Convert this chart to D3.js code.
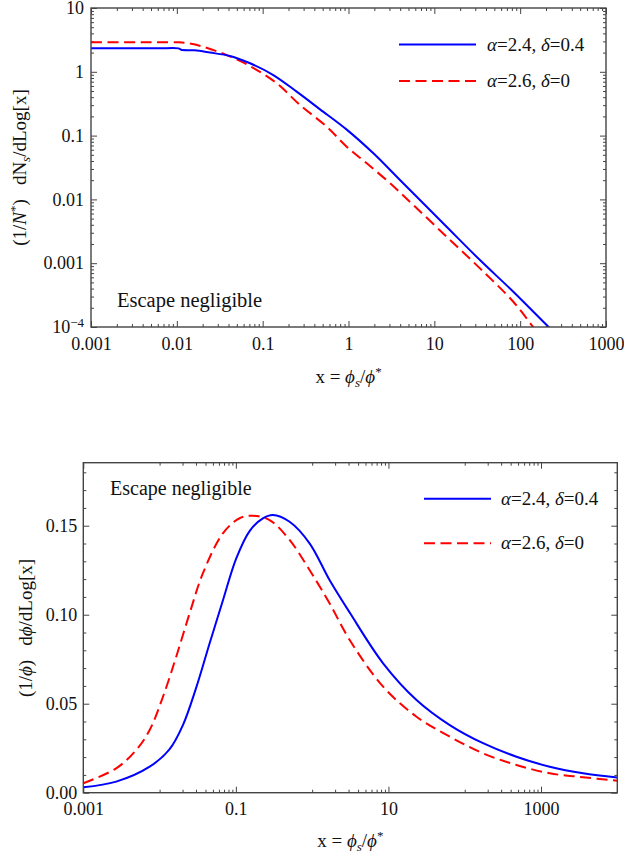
<!DOCTYPE html>
<html>
<head>
<meta charset="utf-8">
<script src="https://cdn.jsdelivr.net/npm/d3@7"></script>
<style>
  html, body { margin: 0; padding: 0; background: #fff; }
  svg { display: block; }
  text { font-family: "Liberation Serif", "Times New Roman", serif; fill: #111; }
</style>
</head>
<body>
<svg id="chart" width="624" height="856"></svg>
<script>
// ---------------- DATA ----------------
// Top panel: (1/N*) dNs/dLog[x] vs x (log-log)
const topBlueX = [0.001, 0.003, 0.006, 0.0105, 0.0112, 0.016, 0.0243, 0.0416, 0.0713, 0.133, 0.249, 0.466, 0.953, 1.95, 3.98, 6.8, 13.9, 34, 83.2, 213, 240];
const topBlueY = [2.33, 2.33, 2.33, 2.33, 2.22, 2.17, 2.0, 1.77, 1.36, 0.89, 0.488, 0.258, 0.124, 0.0527, 0.0201, 0.0098, 0.00373, 0.00112, 0.000357, 0.000101, 0.000087];
const topRedX = [0.001, 0.003, 0.006, 0.0105, 0.014, 0.0203, 0.0381, 0.0711, 0.146, 0.272, 0.557, 0.953, 1.63, 3.05, 5.69, 13.9, 34, 83.2, 136, 155];
const topRedY = [2.9, 2.9, 2.9, 2.9, 2.78, 2.47, 1.83, 1.23, 0.66, 0.302, 0.138, 0.067, 0.0368, 0.0179, 0.00817, 0.0026, 0.00083, 0.000249, 0.000107, 0.000085];

// Bottom panel: (1/phi) dphi/dLog[x] vs x (log-linear)
const botBlueX = [0.001, 0.0027, 0.00741, 0.01355, 0.02023, 0.0302, 0.0453, 0.0676, 0.1009, 0.1514, 0.2259, 0.3055, 0.5058, 0.9247, 1.69, 3.105, 8.511, 23.33, 63.68, 173.8, 476.4, 1300, 3556, 10000];
const botBlueY = [0.0030, 0.0062, 0.0146, 0.0245, 0.0380, 0.0590, 0.0840, 0.1080, 0.1315, 0.1470, 0.1541, 0.1560, 0.1522, 0.1401, 0.1195, 0.1012, 0.0727, 0.0521, 0.0380, 0.0278, 0.0202, 0.0146, 0.0109, 0.0086];
const botRedX = [0.001, 0.0027, 0.00494, 0.00741, 0.01107, 0.01652, 0.02477, 0.0370, 0.0676, 0.1119, 0.1671, 0.2767, 0.5058, 0.9247, 1.69, 3.105, 8.511, 23.33, 63.68, 173.8, 476.4, 1300, 3556, 10000];
const botRedY = [0.0053, 0.0137, 0.0240, 0.0352, 0.0539, 0.0764, 0.1008, 0.1233, 0.1457, 0.1542, 0.1556, 0.1532, 0.1420, 0.1251, 0.1064, 0.0858, 0.0596, 0.0427, 0.0315, 0.0221, 0.0156, 0.0109, 0.0087, 0.0067];

// Tick labels
const topXTicks = [0.001, 0.01, 0.1, 1, 10, 100, 1000];
const topXLabels = ["0.001", "0.01", "0.1", "1", "10", "100", "1000"];
const topYTicks = [0.0001, 0.001, 0.01, 0.1, 1, 10];
const topYLabels = ["10^-4", "0.001", "0.01", "0.1", "1", "10"];
const botXTicks = [0.001, 0.1, 10, 1000];
const botXLabels = ["0.001", "0.1", "10", "1000"];
const botYTicks = [0, 0.05, 0.10, 0.15];
const botYLabels = ["0.00", "0.05", "0.10", "0.15"];

const seriesNames = ["α=2.4, δ=0.4", "α=2.6, δ=0"];
const panelNote = "Escape negligible";

// ---------------- DRAW ----------------
const svg = d3.select("#chart");
const BLUE = "#0000ff", RED = "#ff0000", AX = "#444";

function zip(xs, ys) { return xs.map((x, i) => ({x, y: ys[i]})); }

function frame(g, x0, x1, y0, y1) {
  g.append("rect").attr("x", x0).attr("y", y0).attr("width", x1 - x0).attr("height", y1 - y0)
    .attr("fill", "none").attr("stroke", AX).attr("stroke-width", 1.4);
}

function styleAxis(sel) {
  sel.select(".domain").remove();
  sel.selectAll(".tick line").attr("stroke", AX).attr("stroke-width", 1);
  sel.selectAll(".tick text").style("font-size", "18px").style("font-family", "Liberation Serif, serif").attr("fill", "#111");
}

function drawAxisSet(g, axisFn, scale, pos, major, minor, labels, majLen, minLen, pad, showLabels) {
  const aMin = axisFn(scale).tickValues(minor).tickSizeInner(-minLen).tickSizeOuter(0).tickFormat("");
  g.append("g").attr("transform", pos).call(aMin).call(styleAxis);
  const aMaj = axisFn(scale).tickValues(major).tickSizeInner(-majLen).tickSizeOuter(0).tickPadding(pad)
    .tickFormat((d, i) => showLabels ? labels[i] : "");
  const ga = g.append("g").attr("transform", pos).call(aMaj).call(styleAxis);
  return ga;
}

function logMinors(lo, hi) {
  const out = [];
  for (let e = lo; e < hi; e++) for (let k = 2; k <= 9; k++) out.push(k * Math.pow(10, e));
  return out;
}

// ===== TOP PANEL =====
const T = {x0: 91, x1: 606, y0: 8, y1: 327};
const xT = d3.scaleLog().domain([1e-3, 1e3]).range([T.x0, T.x1]);
const yT = d3.scaleLog().domain([1e-4, 10]).range([T.y1, T.y0]);
const gT = svg.append("g");

svg.append("clipPath").attr("id", "clipT").append("rect")
  .attr("x", T.x0).attr("y", T.y0).attr("width", T.x1 - T.x0).attr("height", T.y1 - T.y0);

const xMinT = logMinors(-3, 3);
const yMinT = logMinors(-4, 1);
drawAxisSet(gT, d3.axisBottom, xT, `translate(0,${T.y1})`, topXTicks, xMinT, topXLabels, 6, 3, 10, true);
drawAxisSet(gT, d3.axisTop, xT, `translate(0,${T.y0})`, topXTicks, xMinT, topXLabels, 6, 3, 6, false);
const yAxT = drawAxisSet(gT, d3.axisLeft, yT, `translate(${T.x0},0)`, topYTicks, yMinT, topYLabels, 6, 3, 7, true);
drawAxisSet(gT, d3.axisRight, yT, `translate(${T.x1},0)`, topYTicks, yMinT, topYLabels, 6, 3, 6, false);

// superscript label 10^-4
yAxT.selectAll(".tick text").each(function(d, i) {
  const lab = topYLabels[i];
  if (lab.indexOf("^") >= 0) {
    const [b, p] = lab.split("^");
    const t = d3.select(this).text("");
    t.append("tspan").text(b);
    t.append("tspan").attr("dy", "-0.45em").style("font-size", "13px").text(p.replace("-", "−"));
  }
});

const lineT = d3.line().x(d => xT(d.x)).y(d => yT(d.y)).curve(d3.curveCatmullRom.alpha(0.5));
const cT = gT.append("g").attr("clip-path", "url(#clipT)");
cT.append("path").datum(zip(topRedX, topRedY)).attr("d", lineT)
  .attr("fill", "none").attr("stroke", RED).attr("stroke-width", 2).attr("stroke-dasharray", "11,5.5");
cT.append("path").datum(zip(topBlueX, topBlueY)).attr("d", lineT)
  .attr("fill", "none").attr("stroke", BLUE).attr("stroke-width", 2);

frame(gT, T.x0, T.x1, T.y0, T.y1);

// legend
function legend(g, lx0, lx1, ly, tx, dy) {
  g.append("line").attr("x1", lx0).attr("x2", lx1).attr("y1", ly).attr("y2", ly)
    .attr("stroke", BLUE).attr("stroke-width", 2);
  g.append("line").attr("x1", lx0).attr("x2", lx1).attr("y1", ly + dy).attr("y2", ly + dy)
    .attr("stroke", RED).attr("stroke-width", 2).attr("stroke-dasharray", "11,5.5");
  seriesNames.forEach((name, i) => {
    const t = g.append("text").attr("x", tx).attr("y", ly + i * dy + 6).style("font-size", "19px");
    const parts = name.split(/([αδ])/);
    parts.forEach(p => {
      if (!p) return;
      const s = t.append("tspan").text(p);
      if (p === "α" || p === "δ") s.style("font-style", "italic");
    });
  });
}
legend(gT, 399, 476, 44.5, 487, 36.5);

gT.append("text").attr("x", 117).attr("y", 307).style("font-size", "20.5px").text(panelNote);

function xLabel(g, cx, y) {
  const t = g.append("text").attr("x", cx).attr("y", y).attr("text-anchor", "middle").style("font-size", "19px");
  t.append("tspan").text("x = ");
  t.append("tspan").style("font-style", "italic").text("ϕ");
  t.append("tspan").style("font-style", "italic").style("font-size", "13px").attr("dy", "4").text("s");
  t.append("tspan").attr("dy", "-4").text("/");
  t.append("tspan").style("font-style", "italic").text("ϕ");
  t.append("tspan").style("font-size", "13px").attr("dy", "-7").text("*");
}
xLabel(gT, 348.5, 383);

{
  const t = gT.append("text").attr("transform", "translate(26,167.5) rotate(-90)")
    .attr("text-anchor", "middle").style("font-size", "19px");
  t.append("tspan").text("(1/");
  t.append("tspan").style("font-style", "italic").text("N");
  t.append("tspan").style("font-size", "13px").attr("dy", "-7").text("*");
  t.append("tspan").attr("dy", "7").text(")");
  t.append("tspan").attr("dx", "14").text("dN");
  t.append("tspan").style("font-style", "italic").style("font-size", "13px").attr("dy", "4").text("s");
  t.append("tspan").attr("dy", "-4").text("/dLog[x]");
}

// ===== BOTTOM PANEL =====
const B = {x0: 83.3, x1: 617.3, y0: 462.7, y1: 792.7};
const xB = d3.scaleLog().domain([1e-3, 1e4]).range([B.x0, B.x1]);
const yB = d3.scaleLinear().domain([0, 0.1854]).range([B.y1, B.y0]);
const gB = svg.append("g");

svg.append("clipPath").attr("id", "clipB").append("rect")
  .attr("x", B.x0).attr("y", B.y0).attr("width", B.x1 - B.x0).attr("height", B.y1 - B.y0);

const xMinB = [];
[0.01, 1, 100].forEach(m => { for (let k = 1; k <= 9; k++) xMinB.push(k * m); });
const yMinB = d3.range(0.01, 0.185, 0.01).filter(v => Math.abs(v / 0.05 - Math.round(v / 0.05)) > 1e-6);

drawAxisSet(gB, d3.axisBottom, xB, `translate(0,${B.y1})`, botXTicks, xMinB, botXLabels, 6, 3, 10, true);
drawAxisSet(gB, d3.axisTop, xB, `translate(0,${B.y0})`, botXTicks, xMinB, botXLabels, 6, 3, 6, false);
drawAxisSet(gB, d3.axisLeft, yB, `translate(${B.x0},0)`, botYTicks, yMinB, botYLabels, 6, 3, 6, true);
drawAxisSet(gB, d3.axisRight, yB, `translate(${B.x1},0)`, botYTicks, yMinB, botYLabels, 6, 3, 6, false);

const lineB = d3.line().x(d => xB(d.x)).y(d => yB(d.y)).curve(d3.curveCatmullRom.alpha(0.5));
const cB = gB.append("g").attr("clip-path", "url(#clipB)");
cB.append("path").datum(zip(botRedX, botRedY)).attr("d", lineB)
  .attr("fill", "none").attr("stroke", RED).attr("stroke-width", 2).attr("stroke-dasharray", "11,5.5");
cB.append("path").datum(zip(botBlueX, botBlueY)).attr("d", lineB)
  .attr("fill", "none").attr("stroke", BLUE).attr("stroke-width", 2);

frame(gB, B.x0, B.x1, B.y0, B.y1);

legend(gB, 424, 491, 498.7, 501, 44.6);
gB.append("text").attr("x", 110).attr("y", 495).style("font-size", "20px").text(panelNote);

xLabel(gB, 350.3, 847);

{
  const t = gB.append("text").attr("transform", "translate(32,628) rotate(-90)")
    .attr("text-anchor", "middle").style("font-size", "19px");
  t.append("tspan").text("(1/");
  t.append("tspan").style("font-style", "italic").text("ϕ");
  t.append("tspan").text(")");
  t.append("tspan").attr("dx", "14").text("d");
  t.append("tspan").style("font-style", "italic").text("ϕ");
  t.append("tspan").text("/dLog[x]");
}
</script>
</body>
</html>
